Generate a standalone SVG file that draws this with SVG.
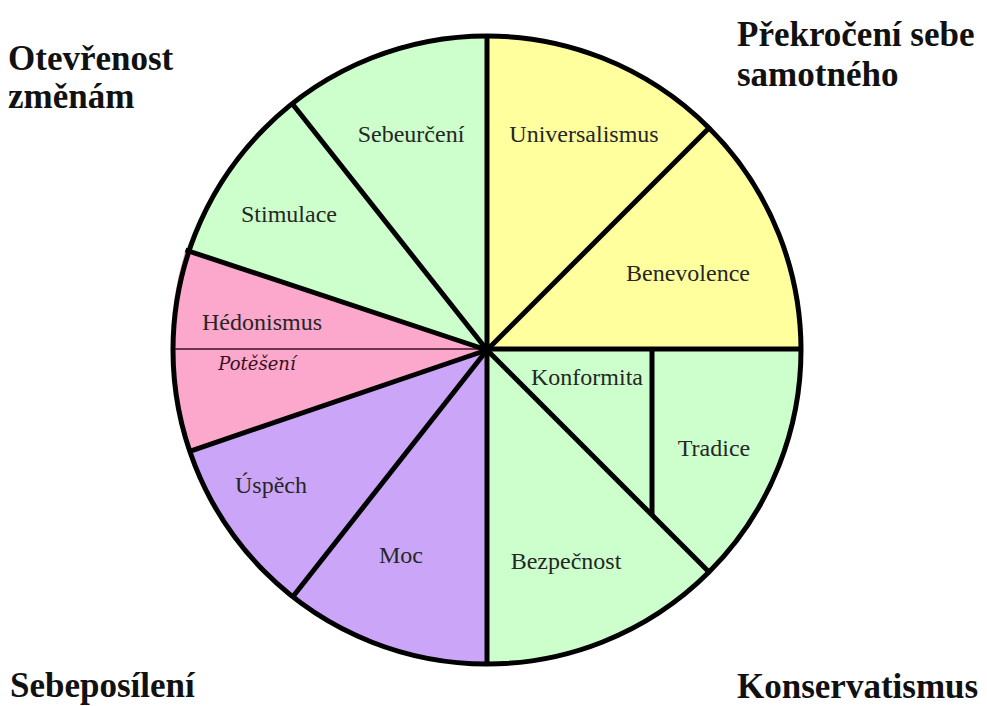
<svg xmlns="http://www.w3.org/2000/svg" width="987" height="706" viewBox="0 0 987 706">
<style>
.green{fill:#ccffcc}
.yellow{fill:#ffff9e}
.pink{fill:#fba8cc}
.purple{fill:#cba6f8}
.div{stroke:#000;stroke-width:5;fill:none;stroke-linecap:butt}
.lbl{font-family:"Liberation Serif","Times New Roman",serif;font-size:24px;fill:#262626;text-anchor:middle}
.ital{font-family:"DejaVu Serif","Liberation Serif",serif;font-size:18px;font-style:italic;fill:#3a1020;text-anchor:middle}
.title{font-family:"Liberation Serif","Times New Roman",serif;font-size:35px;font-weight:bold;fill:#111}
</style>
<rect width="987" height="706" fill="#fff"/>
<g id="universalismus"><path class="yellow" d="M487,350 L487,36 A314,314 0 0 1 709,128 Z"/><text class="lbl" x="584" y="142">Universalismus</text></g>
<g id="benevolence"><path class="yellow" d="M487,350 L709,128 A314,314 0 0 1 801,350 Z"/><text class="lbl" x="688" y="281">Benevolence</text></g>
<g id="tradice"><path class="green" d="M487,350 L801,350 A314,314 0 0 1 709,572 Z"/><text class="lbl" x="714" y="456">Tradice</text></g>
<g id="konformita"><text class="lbl" x="587" y="385">Konformita</text></g>
<g id="bezpecnost"><path class="green" d="M487,350 L709,572 A314,314 0 0 1 487,664 Z"/><text class="lbl" x="566" y="569">Bezpečnost</text></g>
<g id="moc"><path class="purple" d="M487,350 L487,664 A314,314 0 0 1 292.8,596.7 Z"/><text class="lbl" x="401" y="563">Moc</text></g>
<g id="uspech"><path class="purple" d="M487,350 L292.8,596.7 A314,314 0 0 1 189.7,451.3 Z"/><text class="lbl" x="271" y="493">Úspěch</text></g>
<g id="hedonismus"><path class="pink" d="M487,350 L189.7,451.3 A314,314 0 0 1 185.5,250 Z"/><line x1="173" y1="349" x2="487" y2="349" stroke="#3a1020" stroke-width="1.5"/><text class="lbl" x="262" y="330">Hédonismus</text><text class="ital" x="257" y="370">Potěšení</text></g>
<g id="stimulace"><path class="green" d="M487,350 L185.5,250 A314,314 0 0 1 292.5,104 Z"/><text class="lbl" x="289" y="222">Stimulace</text></g>
<g id="sebeurceni"><path class="green" d="M487,350 L292.5,104 A314,314 0 0 1 487,36 Z"/><text class="lbl" x="411" y="142">Sebeurčení</text></g>
<g id="connectors">
<circle class="div" cx="487" cy="350" r="314"/>
<line class="div" x1="487" y1="350" x2="487" y2="36"/>
<line class="div" x1="487" y1="350" x2="487" y2="664"/>
<line class="div" x1="487" y1="349" x2="801" y2="349"/>
<line class="div" x1="487" y1="350" x2="709" y2="128"/>
<line class="div" x1="487" y1="350" x2="709" y2="572"/>
<line class="div" x1="487" y1="350" x2="292.5" y2="104"/>
<line class="div" x1="487" y1="350" x2="185.5" y2="250"/>
<line class="div" x1="487" y1="350" x2="189.7" y2="451.3"/>
<line class="div" x1="487" y1="350" x2="292.8" y2="596.7"/>
<line class="div" x1="652" y1="349" x2="652" y2="515"/>
</g>
<g id="titles">
<text class="title" x="8" y="70">Otevřenost</text>
<text class="title" x="8" y="108">změnám</text>
<text class="title" x="737" y="46">Překročení sebe</text>
<text class="title" x="737" y="86">samotného</text>
<text class="title" x="10" y="697">Sebeposílení</text>
<text class="title" x="737" y="698">Konservatismus</text>
</g>
</svg>
